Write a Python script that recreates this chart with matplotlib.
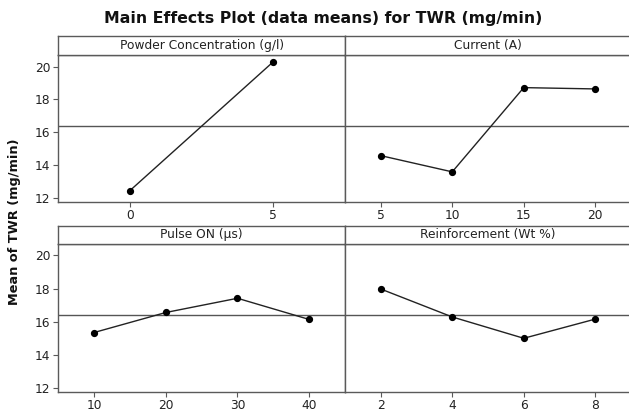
import matplotlib
matplotlib.use("Agg")
import matplotlib.pyplot as plt

# factor levels and mean TWR (mg/min)
powder_lv = [0, 5]
powder_twr = [12.44, 20.30]
current_lv = [5, 10, 15, 20]
current_twr = [14.57, 13.58, 18.72, 18.64]
pulse_lv = [10, 20, 30, 40]
pulse_twr = [15.34, 16.55, 17.41, 16.13]
reinf_lv = [2, 4, 6, 8]
reinf_twr = [17.97, 16.28, 14.99, 16.15]
grand_mean = 16.37

titles = ["Powder Concentration (g/l)", "Current (A)", "Pulse ON (\u00b5s)", "Reinforcement (Wt %)"]
xlims = [(-2.5, 7.5), (2.5, 22.5), (5, 45), (1, 9)]
yticks = [12, 14, 16, 18, 20]

W, H = 629, 415
fig = plt.figure(figsize=(W / 100, H / 100), dpi=100)
plt.rcParams['font.family'] = ['DejaVu Sans']

frame = '#5a5a5a'
x0, xm, x1 = 58.3 / W, 345 / W, 631 / W
rows = [(201.7, 55, 36), (391.7, 243.7, 226)]  # axis bottom, axis top, strip top (px)

data = [(powder_lv, powder_twr), (current_lv, current_twr),
        (pulse_lv, pulse_twr), (reinf_lv, reinf_twr)]

for i, (xs, ys) in enumerate(data):
    r, c = divmod(i, 2)
    bot, top, stop = rows[r]
    left = x0 if c == 0 else xm
    width = (xm - x0) if c == 0 else (x1 - xm)
    ax = fig.add_axes([left, 1 - bot / H, width, (bot - top) / H])
    sax = fig.add_axes([left, 1 - top / H, width, (top - stop) / H])

    ax.axhline(grand_mean, color='#555555', lw=1.0, zorder=1)
    ax.plot(xs, ys, color='#222222', lw=1.0, marker='o', ms=4.2,
            mfc='black', mec='black', zorder=3)
    ax.set_xlim(*xlims[i])
    ax.set_ylim(11.76, 20.71)
    ax.set_xticks(xs)
    ax.set_yticks(yticks)
    ax.tick_params(direction='out', length=3.5, width=0.8, color=frame,
                   labelsize=8.8, labelcolor='#222222', pad=2)
    if c == 1:
        ax.tick_params(axis='y', left=False, labelleft=False)
    for s in ax.spines.values():
        s.set_color(frame)
        s.set_linewidth(1.0)

    sax.set_xticks([])
    sax.set_yticks([])
    for s in sax.spines.values():
        s.set_color(frame)
        s.set_linewidth(1.0)
    sax.text(0.5, 0.5, titles[i], transform=sax.transAxes, ha='center',
             va='center', fontsize=8.8, color='#222222')

fig.text(323 / W, 1 - 18 / H, "Main Effects Plot (data means) for TWR (mg/min)",
         ha='center', va='center', fontsize=11.3, fontweight='bold', color='#111111')
fig.text(15 / W, 1 - 222 / H, "Mean of TWR (mg/min)", rotation=90, ha='center',
         va='center', fontsize=9.3, fontweight='bold', color='#111111')

fig.savefig("out.png", dpi=100)
